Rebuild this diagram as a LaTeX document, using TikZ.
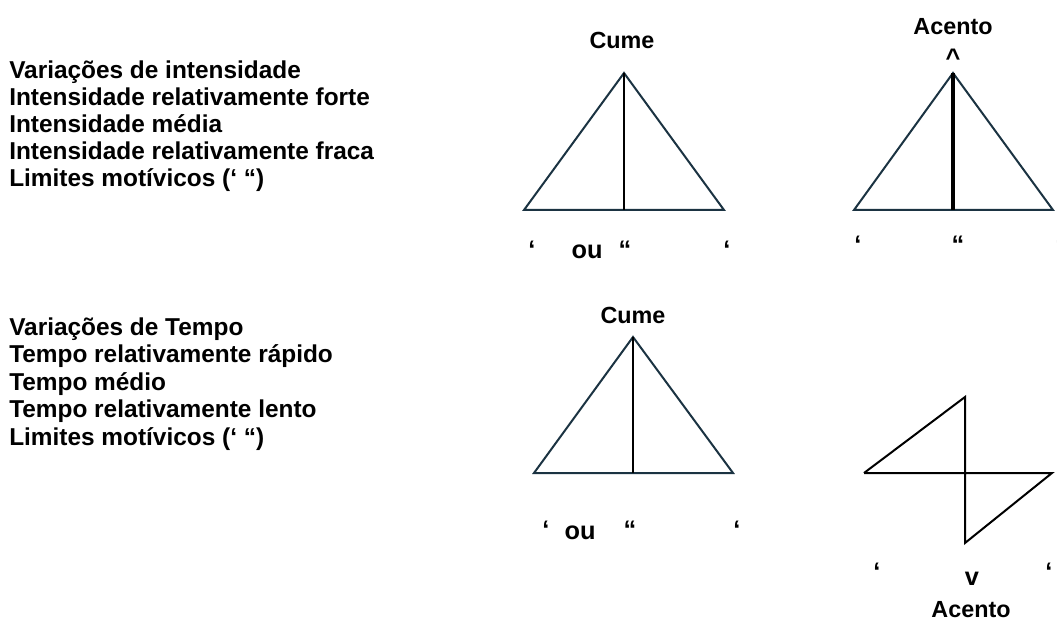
\documentclass[tikz,border=0pt]{standalone}
\usepackage{fontspec}
\setmainfont{Liberation Sans}
\usetikzlibrary{positioning}
\definecolor{EdgeNavy}{HTML}{1B3342}

\begin{document}
\begin{tikzpicture}[
    x=0.75pt,y=-0.75pt,
    legend/.style={anchor=base west,inner sep=0pt,font=\bfseries\fontsize{18.3}{20}\selectfont},
    tag/.style={inner sep=0pt,font=\bfseries\fontsize{17.5}{20}\selectfont},
    quote/.style={inner sep=0pt,font=\bfseries\fontsize{19}{20}\selectfont},
    tri/.style={draw=EdgeNavy,line width=1.5pt,line join=miter},
    axis/.style={draw=black,line width=1.5pt},
    thickaxis/.style={draw=black,line width=2.3pt}
  ]
    \useasboundingbox (0,0) rectangle (1057,631);

    \node[legend] (int1) at (9,79) {Variações de intensidade};
    \node[legend] (int2) at (9,106) {Intensidade relativamente forte};
    \node[legend] (int3) at (9,133) {Intensidade média};
    \node[legend] (int4) at (9,160) {Intensidade relativamente fraca};
    \node[legend] (int5) at (9,187) {Limites motívicos (‘ “)};

    \node[legend] (tmp1) at (9,335) {Variações de Tempo};
    \node[legend] (tmp2) at (9,362) {Tempo relativamente rápido};
    \node[legend] (tmp3) at (9,390) {Tempo médio};
    \node[legend] (tmp4) at (9,417) {Tempo relativamente lento};
    \node[legend] (tmp5) at (9,445) {Limites motívicos (‘ “)};

    % intensidade: cume
    \coordinate (cA) at (624,73);
    \coordinate (cL) at (524,210);
    \coordinate (cR) at (724,210);
    \coordinate (cM) at (624,210);
    \draw[tri] (cL) -- (cA) -- (cR) -- cycle;
    \draw[axis] (cA) -- (cM);
    \node[tag] (cume1) at (622,40) {Cume};
    \node[quote] (cq1) at (532,250) {‘};
    \node[quote] (cou) at (587,252) {ou};
    \node[quote] (cq2) at (625,250) {“};
    \node[quote] (cq3) at (727,250) {‘};

    % intensidade: acento
    \coordinate (aA) at (953,73);
    \coordinate (aL) at (854,210);
    \coordinate (aR) at (1053,210);
    \coordinate (aM) at (953,210);
    \draw[tri] (aL) -- (aA) -- (aR) -- cycle;
    \draw[thickaxis] (aA) -- (aM);
    \node[tag] (acento1) at (953,27) {Acento};
    \node[quote] (hat) at (953,58) {\textasciicircum};
    \node[quote] (aq1) at (858,245) {‘};
    \node[quote] (aq2) at (958,245) {“};
    \node[quote] (aq3) at (1059,245) {‘};

    % tempo: cume
    \coordinate (tA) at (633,337);
    \coordinate (tL) at (534,473);
    \coordinate (tR) at (733,473);
    \coordinate (tM) at (633,473);
    \draw[tri] (tL) -- (tA) -- (tR) -- cycle;
    \draw[axis] (tA) -- (tM);
    \node[tag] (cume2) at (633,315) {Cume};
    \node[quote] (tq1) at (546,530) {‘};
    \node[quote] (tou) at (580,533) {ou};
    \node[quote] (tq2) at (630,530) {“};
    \node[quote] (tq3) at (737,530) {‘};

    % tempo: acento
    \coordinate (zT) at (965,397);
    \coordinate (zL) at (864,473);
    \coordinate (zR) at (1052,473);
    \coordinate (zB) at (965,543);
    \draw[axis,line join=miter] (zL) -- (zT) -- (zB) -- (zR) -- (zL);
    \node[quote] (zq1) at (877,572) {‘};
    \node[quote] (zv) at (972,579) {v};
    \node[quote] (zq2) at (1049,572) {‘};
    \node[tag] (acento2) at (971,610) {Acento};
\end{tikzpicture}
\end{document}
